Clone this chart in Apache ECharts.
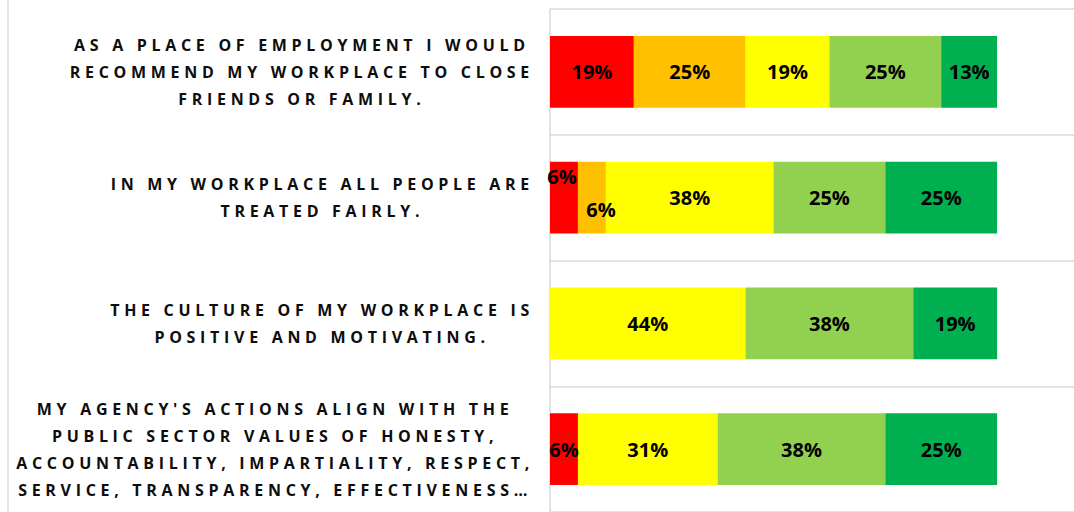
<!DOCTYPE html>
<html><head><meta charset="utf-8">
<script src="https://cdn.jsdelivr.net/npm/echarts@6.0.0/dist/echarts.min.js"></script>
<style>
html,body{margin:0;padding:0;background:#fff}
#chart{width:1074px;height:512px}
#chart text[style*="Carlito"]{letter-spacing:4.7px}
</style></head><body><div id="chart"></div>
<script>
// ---- data ----
const categories = [
  "AS A PLACE OF EMPLOYMENT I WOULD\nRECOMMEND MY WORKPLACE TO CLOSE\nFRIENDS OR FAMILY.",
  "IN MY WORKPLACE ALL PEOPLE ARE\nTREATED FAIRLY.",
  "THE CULTURE OF MY WORKPLACE IS\nPOSITIVE AND MOTIVATING.",
  "MY AGENCY'S ACTIONS ALIGN WITH THE\nPUBLIC SECTOR VALUES OF HONESTY,\nACCOUNTABILITY, IMPARTIALITY, RESPECT,\nSERVICE, TRANSPARENCY, EFFECTIVENESS…"
];
const seriesNames = ["Strongly disagree", "Disagree", "Neutral", "Agree", "Strongly agree"];
const stronglyDisagree = [18.75, 6.25, 0, 6.25];
const disagree        = [25, 6.25, 0, 0];
const neutral         = [18.75, 37.5, 43.75, 31.25];
const agree           = [25, 25, 37.5, 37.5];
const stronglyAgree   = [12.5, 25, 18.75, 25];
const colors = ["#FF0000", "#FFC000", "#FFFF00", "#92D050", "#00B050"];

// ---- letter-spaced category labels: make measurement match CSS letter-spacing ----
const LS = 4.7;
const mctx = document.createElement('canvas').getContext('2d');
if (echarts.setPlatformAPI) {
  echarts.setPlatformAPI({
    measureText: function (text, font) {
      mctx.font = font || '12px sans-serif';
      const m = mctx.measureText(text);
      let w = m.width;
      if (font && font.indexOf('Carlito') >= 0) w += LS * String(text).length;
      return {
        width: w,
        actualBoundingBoxAscent: m.actualBoundingBoxAscent,
        actualBoundingBoxDescent: m.actualBoundingBoxDescent,
        actualBoundingBoxLeft: m.actualBoundingBoxLeft,
        actualBoundingBoxRight: m.actualBoundingBoxRight
      };
    }
  });
}

const allValues = [stronglyDisagree, disagree, neutral, agree, stronglyAgree];
// Excel moved two overlapping labels in row 2
const labelNudges = { "0-1": [-2, -21], "1-1": [9, 12] };

const chart = echarts.init(document.getElementById('chart'), null, { renderer: 'svg' });
const series = allValues.map(function (vals, s) {
  return {
    name: seriesNames[s],
    type: 'bar',
    stack: 'total',
    barCategoryGap: '43%',
    itemStyle: { color: colors[s] },
    label: {
      show: true,
      position: 'inside',
      color: '#000',
      fontFamily: 'Open Sans',
      fontWeight: 'bold',
      fontSize: 20,
      formatter: function (p) { return p.value > 0 ? Math.round(p.value) + '%' : ''; }
    },
    data: vals.map(function (v, i) {
      const n = labelNudges[s + '-' + i];
      return n ? { value: v, label: { offset: n } } : v;
    })
  };
});

chart.setOption({
  animation: false,
  backgroundColor: '#fff',
  grid: { left: 550, right: 0, top: 9, bottom: -1, containLabel: false },
  xAxis: { type: 'value', min: 0, max: 117.2, show: false },
  yAxis: {
    type: 'category',
    inverse: true,
    data: categories,
    axisLine: { show: true, lineStyle: { color: '#D9D9D9', width: 1.5 } },
    axisTick: { show: false },
    splitLine: { show: true, lineStyle: { color: '#D9D9D9', width: 1.5 } },
    axisLabel: {
      margin: 16,
      align: 'right',
      formatter: function (v) {
        return v.split('\n').map(function (l) { return '{c|' + l + '}'; }).join('\n');
      },
      rich: {
        c: {
          align: 'center',
          fontFamily: 'Open Sans, Carlito',
          fontWeight: 'bold',
          fontSize: 16,
          lineHeight: 27,
          color: '#0D0D0D'
        }
      }
    }
  },
  graphic: [{
    type: 'line', silent: true,
    shape: { x1: 8, y1: 0, x2: 8, y2: 512 },
    style: { stroke: '#D9D9D9', lineWidth: 1.5 }
  }],
  series: series
});
</script></body></html>
